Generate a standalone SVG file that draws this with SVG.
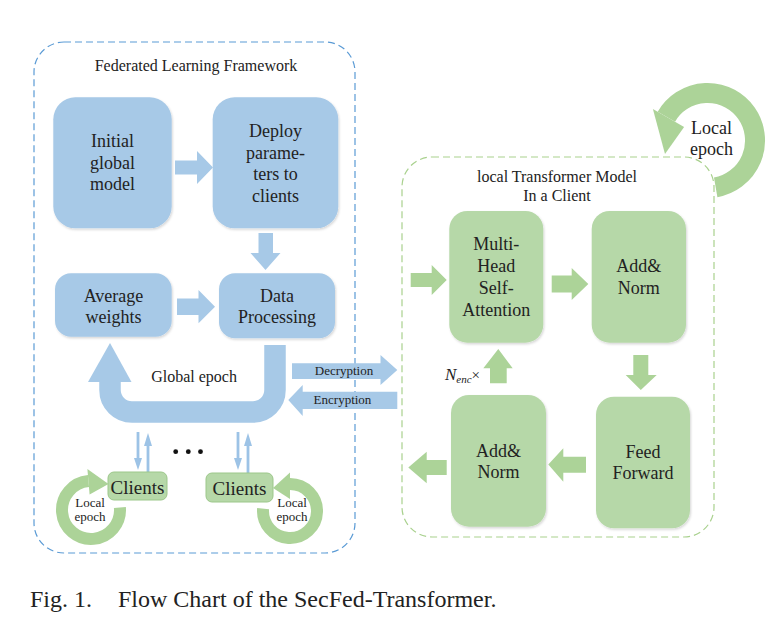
<svg xmlns="http://www.w3.org/2000/svg" width="779" height="643" viewBox="0 0 779 643">
<defs>
<filter id="sh" x="-10%" y="-10%" width="130%" height="130%">
<feDropShadow dx="1" dy="1.5" stdDeviation="1.2" flood-color="#000" flood-opacity="0.16"/>
</filter>
</defs>
<style>
text{font-family:"Liberation Serif","Times New Roman",serif;fill:#222;text-anchor:middle}
.bn{fill:#A7C9E7;filter:url(#sh)}
.gn{fill:#B6D8A8;filter:url(#sh)}
.cl{fill:#B6D8A8;stroke:#9CC78A;stroke-width:1}
.ba{fill:#A7C9E7}
.ga{fill:#ACD398}
.bs{fill:none;stroke:#A7C9E7}
.gs{fill:none;stroke:#ACD398}
.sa{fill:#9DC3E6}
.t18{font-size:18px}
.t16{font-size:16px}
.t13{font-size:13px}
.t19{font-size:19px}
.frame{fill:none;stroke-width:1.2;stroke-dasharray:7 4}
</style>
<rect width="779" height="643" fill="#fff"/>

<g id="fl-frame">
<rect class="frame" x="34" y="42" width="321" height="511" rx="30" stroke="#5B9BD5"/>
<text class="t16" x="196" y="71">Federated Learning Framework</text>
</g>

<g id="tf-frame">
<rect class="frame" x="402" y="157" width="312" height="380" rx="30" stroke="#A9D18E"/>
<text class="t16" x="557" y="182">local Transformer Model</text>
<text class="t16" x="557" y="201">In a Client</text>
</g>

<g id="connectors">
<!-- Initial -> Deploy -->
<polygon class="ba" points="175,160.5 197,160.5 197,151 213,167.5 197,184 197,174.5 175,174.5"/>
<!-- Deploy -> Data -->
<polygon class="ba" points="258.5,233 273,233 273,253 280.5,253 265.5,270 250.5,253 258.5,253"/>
<!-- Average -> Data -->
<polygon class="ba" points="177,298.5 198.5,298.5 198.5,290 215,306.7 198.5,323.3 198.5,315 177,315"/>
<!-- Global epoch U arrow -->
<path class="bs" stroke-width="21.5" d="M275 345 L275 390 A22 22 0 0 1 253 412 L132 412 A22 22 0 0 1 110 390 L110 381"/>
<polygon class="ba" points="88,382 131.5,382 110,343"/>
<!-- Decryption -->
<polygon class="ba" points="292,363.3 380.5,363.3 380.5,355 397.3,370 380.5,385 380.5,379 292,379"/>
<text class="t13" x="344" y="375">Decryption</text>
<!-- Encryption -->
<polygon class="ba" points="397.3,391.7 302.7,391.7 302.7,385 288.3,400 302.7,416 302.7,409 397.3,409"/>
<text class="t13" x="342.5" y="403.5">Encryption</text>
<!-- small up/down arrows left -->
<rect class="sa" x="136.6" y="432" width="2.8" height="28"/>
<polygon class="sa" points="134,458 142,458 138,470"/>
<rect class="sa" x="146.6" y="444" width="2.8" height="29"/>
<polygon class="sa" points="144,446 152,446 148,433"/>
<!-- small up/down arrows right -->
<rect class="sa" x="236.6" y="432" width="2.8" height="28"/>
<polygon class="sa" points="234,458 242,458 238,470"/>
<rect class="sa" x="246.6" y="444" width="2.8" height="29"/>
<polygon class="sa" points="244,446 252,446 248,433"/>
<!-- client local epoch rings -->
<path class="gs" stroke-width="12" d="M119.9 507.5 A29 29 0 1 1 88.5 481.1"/>
<polygon class="ga" points="87.4,469 89.6,494.5 108.5,484"/>
<path class="gs" stroke-width="12" d="M263.1 508.6 A27 27 0 1 0 290 484"/>
<polygon class="ga" points="290,472.5 290,499 273,488"/>
<!-- transformer arrows -->
<polygon class="ga" points="410.7,273 431.7,273 431.7,265 446.7,280 431.7,295 431.7,287 410.7,287"/>
<polygon class="ga" points="551.7,275.5 571.7,275.5 571.7,268 588.3,284 571.7,300 571.7,292.5 551.7,292.5"/>
<polygon class="ga" points="633.3,355 648.3,355 648.3,375 656.7,375 640.8,390 625.7,375 633.3,375"/>
<polygon class="ga" points="586,456.7 563.3,456.7 563.3,448.3 548.3,464.5 563.3,481.7 563.3,472.7 586,472.7"/>
<polygon class="ga" points="446.7,460 426.7,460 426.7,451.7 408.3,467.5 426.7,483.3 426.7,475 446.7,475"/>
<polygon class="ga" points="490,383.3 490,368.3 483.3,368.3 498.3,349 512.7,368.3 506.7,368.3 506.7,383.3"/>
<text x="445" y="379.5" style="text-anchor:start;font-size:17px;font-style:italic">N<tspan dy="3" style="font-size:11px">enc</tspan><tspan dy="-3" style="font-size:15px;font-style:normal">×</tspan></text>
<!-- top-right local epoch ring -->
<path class="gs" stroke-width="20" d="M715.7 187.3 A47.5 47.5 0 1 0 666.4 116.75"/>
<polygon class="ga" points="652.9,109 684.1,127 665,154"/>
</g>

<g id="local-epoch-label">
<text class="t18" x="711.5" y="134">Local</text>
<text class="t18" x="711.5" y="155">epoch</text>
</g>

<g id="initial">
<rect class="bn" x="53.3" y="97.3" width="118.4" height="131" rx="22"/>
<text class="t18" x="112.5" y="147">Initial</text>
<text class="t18" x="112.5" y="169">global</text>
<text class="t18" x="112.5" y="190">model</text>
</g>
<g id="deploy">
<rect class="bn" x="212.7" y="97.3" width="125.6" height="131" rx="22"/>
<text class="t18" x="275.5" y="137">Deploy</text>
<text class="t18" x="275.5" y="159">parame-</text>
<text class="t18" x="275.5" y="180">ters to</text>
<text class="t18" x="275.5" y="202">clients</text>
</g>
<g id="average">
<rect class="bn" x="55" y="273.3" width="116.7" height="63.4" rx="16"/>
<text class="t18" x="113.5" y="302">Average</text>
<text class="t18" x="113.5" y="323">weights</text>
</g>
<g id="data">
<rect class="bn" x="219" y="273.3" width="116" height="65" rx="16"/>
<text class="t18" x="277" y="302">Data</text>
<text class="t18" x="277" y="323">Processing</text>
</g>
<g id="global-epoch">
<text class="t16" x="194" y="382">Global epoch</text>
</g>
<g id="dots">
<circle cx="175.7" cy="451.7" r="2.4" fill="#111"/>
<circle cx="188.3" cy="451.7" r="2.4" fill="#111"/>
<circle cx="200.5" cy="451.7" r="2.4" fill="#111"/>
</g>
<g id="client-left">
<rect class="cl" x="108" y="472" width="59" height="28" rx="6"/>
<text class="t19" x="137.5" y="494">Clients</text>
<text class="t13" x="90" y="507">Local</text>
<text class="t13" x="90" y="521">epoch</text>
</g>
<g id="client-right">
<rect class="cl" x="206" y="473" width="67" height="29" rx="6"/>
<text class="t19" x="239.5" y="495">Clients</text>
<text class="t13" x="292" y="507">Local</text>
<text class="t13" x="292" y="521">epoch</text>
</g>

<g id="mha">
<rect class="gn" x="449.3" y="211" width="94" height="131.7" rx="18"/>
<text class="t18" x="496.3" y="250">Multi-</text>
<text class="t18" x="496.3" y="272">Head</text>
<text class="t18" x="496.3" y="294">Self-</text>
<text class="t18" x="496.3" y="316">Attention</text>
</g>
<g id="addnorm1">
<rect class="gn" x="591.7" y="211" width="94.3" height="131.7" rx="18"/>
<text class="t18" x="638.8" y="272">Add&amp;</text>
<text class="t18" x="638.8" y="294">Norm</text>
</g>
<g id="ffn">
<rect class="gn" x="596" y="396.7" width="94" height="131.6" rx="18"/>
<text class="t18" x="643" y="458">Feed</text>
<text class="t18" x="643" y="479">Forward</text>
</g>
<g id="addnorm2">
<rect class="gn" x="451" y="395" width="95" height="131.7" rx="18"/>
<text class="t18" x="498.5" y="457">Add&amp;</text>
<text class="t18" x="498.5" y="478">Norm</text>
</g>

<g id="caption">
<text x="30" y="607" style="text-anchor:start;font-size:24px">Fig. 1.</text>
<text x="118" y="607" style="text-anchor:start;font-size:24px">Flow Chart of the SecFed-Transformer.</text>
</g>
</svg>
